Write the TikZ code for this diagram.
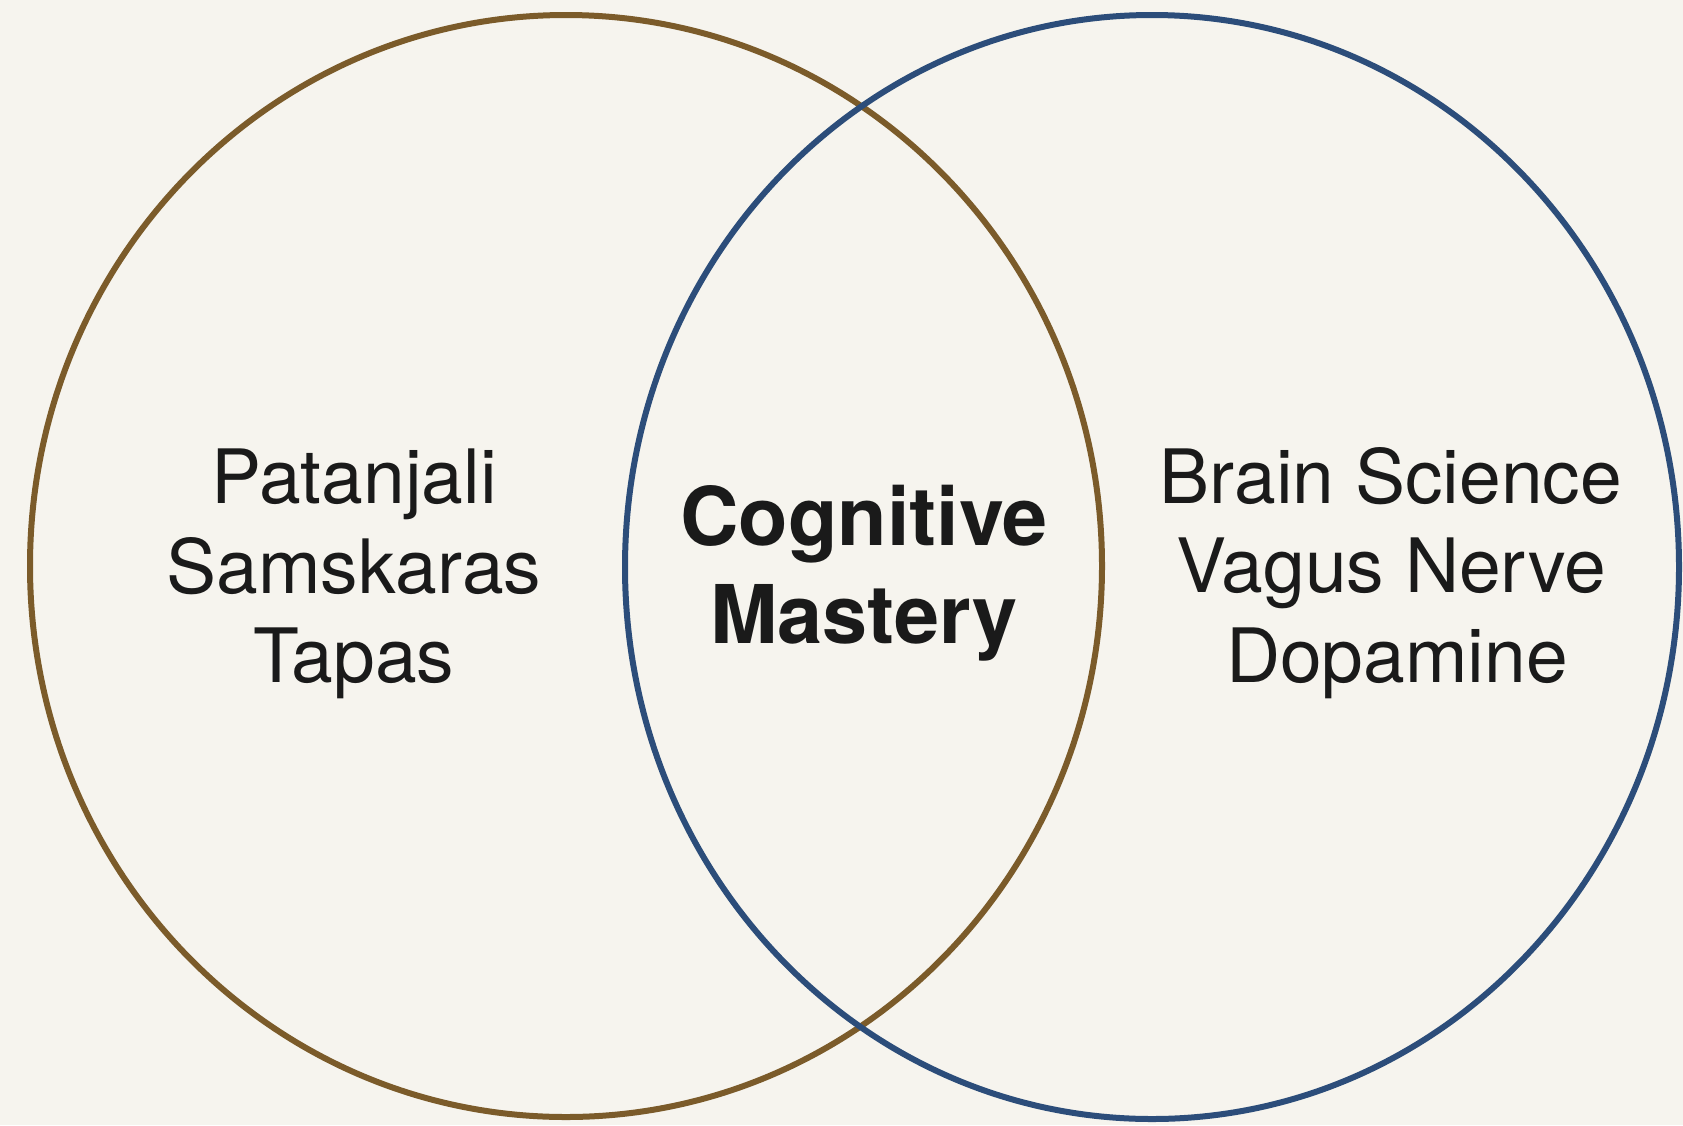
\documentclass[tikz,border=0pt]{standalone}
\usepackage{fontspec}
\setmainfont{TeX Gyre Heros}
\definecolor{bgc}{HTML}{F6F4EE}
\definecolor{brownc}{HTML}{7B5B2A}
\definecolor{bluec}{HTML}{2C4D7A}
\definecolor{txtc}{HTML}{1A1A1A}
\tikzset{
  ring/.style={line width=6pt},
  lbl/.style={anchor=base, inner sep=0pt, text=txtc, font=\fontsize{75}{90}\selectfont},
  mid/.style={anchor=base, inner sep=0pt, text=txtc, font=\fontsize{81}{98}\selectfont\bfseries},
}
\begin{document}
\begin{tikzpicture}[x=1pt,y=-1pt]
\fill[bgc] (0,0) rectangle (1683,1125);
\useasboundingbox (0,0) rectangle (1683,1125);
\draw[ring, brownc] (566,566) ellipse [x radius=536pt, y radius=551pt];
\draw[ring, bluec] (1152,567) ellipse [x radius=527pt, y radius=552pt];
% left
\node[lbl] (l1) at (354,503) {Patanjali};
\node[lbl] (l2) at (354,593) {Samskaras};
\node[lbl] (l3) at (354,682) {Tapas};
% centre
\node[mid] (c1) at (864,545) {Cognitive};
\node[mid] (c2) at (864,643) {Mastery};
% right
\node[lbl] (r1) at (1391,503) {Brain Science};
\node[lbl] (r2) at (1391,592) {Vagus Nerve};
\node[lbl] (r3) at (1397,682) {Dopamine};
\end{tikzpicture}
\end{document}
